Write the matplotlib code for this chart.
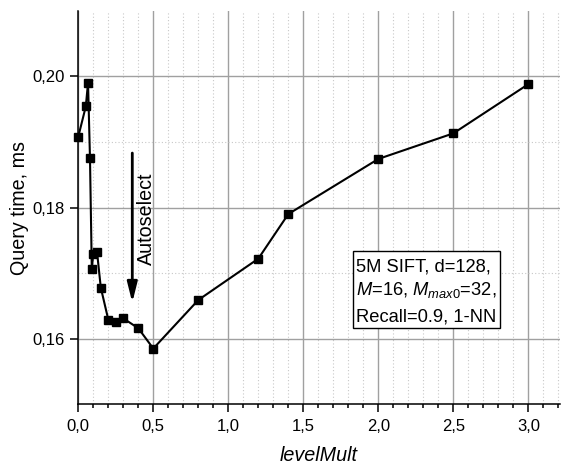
import matplotlib
matplotlib.use("Agg")
import matplotlib.pyplot as plt
from matplotlib.ticker import MultipleLocator, FixedLocator, FuncFormatter
from matplotlib.patches import Rectangle

plt.rcParams['font.family'] = ['Liberation Sans', 'DejaVu Sans']
plt.rcParams['mathtext.fontset'] = 'custom'
plt.rcParams['mathtext.rm'] = 'Liberation Sans'
plt.rcParams['mathtext.it'] = 'Liberation Sans:italic'

# Data
level_mult = [0.0, 0.05, 0.065, 0.078, 0.09, 0.10, 0.125, 0.15, 0.20, 0.25,
              0.30, 0.40, 0.50, 0.80, 1.20, 1.40, 2.00, 2.50, 3.00]
query_time = [0.1908, 0.1954, 0.1990, 0.1875, 0.1707, 0.1729, 0.1732, 0.1678,
              0.1629, 0.1626, 0.1631, 0.1616, 0.1585, 0.1659, 0.1722, 0.1790,
              0.1874, 0.1913, 0.1988]
x_ticks = [0.0, 0.5, 1.0, 1.5, 2.0, 2.5, 3.0]
y_ticks = [0.16, 0.18, 0.20]
autoselect_x = 0.36
box_lines = ["5M SIFT, d=128,", r"$M$=16, $M_{\mathit{max0}}$=32,", "Recall=0.9, 1-NN"]

fig = plt.figure(figsize=(5.62, 4.65), dpi=100)
ax = fig.add_axes([0.1393, 0.1305, 0.8571, 0.8465])

ax.set_xlim(0, 3.211)
ax.set_ylim(0.15, 0.21)

ax.xaxis.set_major_locator(FixedLocator(x_ticks))
ax.xaxis.set_minor_locator(MultipleLocator(0.1))
ax.yaxis.set_major_locator(FixedLocator(y_ticks))
ax.yaxis.set_minor_locator(FixedLocator([0.17, 0.19]))

ax.xaxis.set_major_formatter(FuncFormatter(lambda v, p: f"{v:.1f}".replace('.', ',')))
ax.yaxis.set_major_formatter(FuncFormatter(lambda v, p: f"{v:.2f}".replace('.', ',')))

ax.grid(which='major', color='#a0a0a0', linewidth=1.0, linestyle='-')
ax.grid(which='minor', color='#c8c8c8', linewidth=0.8, linestyle=(0, (1, 2)))
ax.set_axisbelow(True)

for s in ['top', 'right']:
    ax.spines[s].set_visible(False)
for s in ['left', 'bottom']:
    ax.spines[s].set_linewidth(1.1)

ax.tick_params(axis='both', which='major', direction='out', length=5.5, width=1.1,
               labelsize=12, pad=4)
ax.tick_params(axis='x', which='major', pad=5)
ax.tick_params(axis='x', which='minor', direction='out', length=3, width=1.1)
ax.tick_params(axis='y', which='minor', length=0)

ax.plot(level_mult, query_time, color='black', linewidth=1.5, marker='s',
        markersize=6.3, markerfacecolor='black', markeredgecolor='black',
        clip_on=False, zorder=5)

ax.set_xlabel('levelMult', fontsize=14.2, style='italic', labelpad=9)
ax.set_ylabel('Query time, ms', fontsize=14.2, labelpad=3)

# Autoselect arrow and text
ax.annotate('', xy=(autoselect_x, 0.1655), xytext=(autoselect_x, 0.1883),
            arrowprops=dict(arrowstyle='-|>,head_length=1.2,head_width=0.3',
                            mutation_scale=10, lw=2, color='black',
                            shrinkA=0, shrinkB=0), zorder=6)
ax.text(0.456, 0.1783, 'Autoselect', rotation=90, ha='center', va='center',
        fontsize=14.2, zorder=6)

# Annotation box
ax.add_patch(Rectangle((1.833, 0.16167), 0.977, 0.01166, facecolor='white',
                       edgecolor='black', linewidth=1.0, zorder=7))
for line, yb in zip(box_lines, [0.17028, 0.16673, 0.16267]):
    ax.text(1.853, yb, line, ha='left', va='baseline', fontsize=13.2, zorder=8)

fig.savefig('out.png', dpi=100)
